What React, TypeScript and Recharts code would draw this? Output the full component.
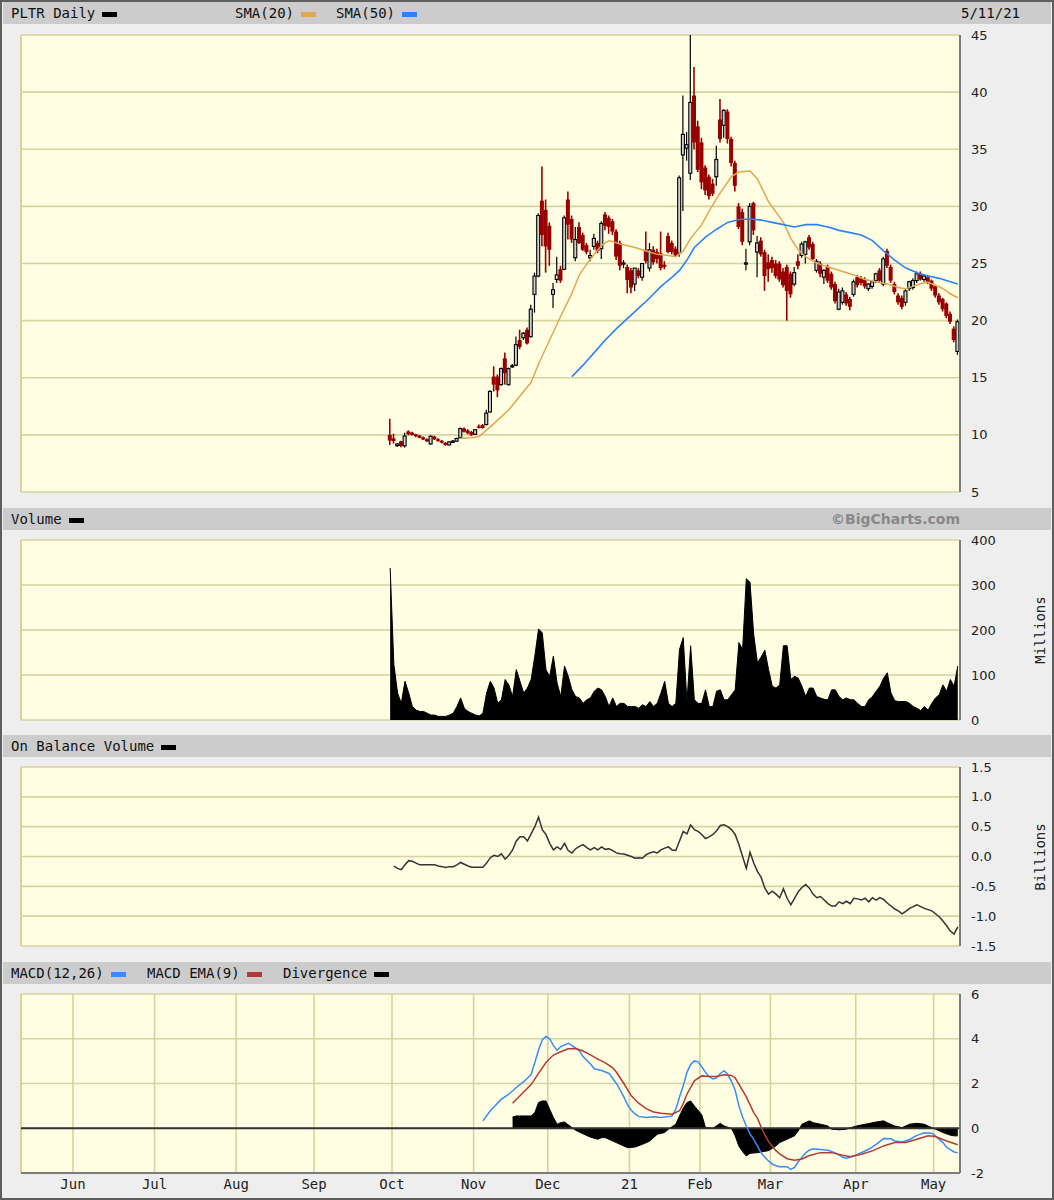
import {
  Area,
  Bar,
  CartesianGrid,
  ComposedChart,
  Line,
  ReferenceLine,
  XAxis,
  YAxis,
} from "recharts";

// Trading-day index: 0 = May 12 2020, 98 = Sep 30 2020 (first PLTR session), 251 = May 11 2021
const FIRST_DAY = 98;
const X_DOMAIN: [number, number] = [-1.5, 251.6];

const monthStarts = [13, 35, 57, 78, 99, 121, 141, 163, 182, 201, 224, 245];
const monthLabels = ["Jun", "Jul", "Aug", "Sep", "Oct", "Nov", "Dec", "21", "Feb", "Mar", "Apr", "May"];

const priceTicks = [5, 10, 15, 20, 25, 30, 35, 40, 45];
const volumeTicks = [0, 100, 200, 300, 400];
const obvTicks = [-1.5, -1, -0.5, 0, 0.5, 1, 1.5];
const macdTicks = [-2, 0, 2, 4, 6];

// daily [open, high, low, close], one row per session starting at FIRST_DAY
const ohlc: number[][] = [
  [10.0, 11.41, 9.11, 9.5], [9.69, 10.1, 9.23, 9.46], [9.06, 9.28, 8.94, 9.2], [9.43, 9.49, 8.92, 9.03], [9.04, 10.18, 8.9, 9.9],
  [10.3, 10.4, 9.95, 10.05], [10.2, 10.28, 9.95, 10.0], [10.05, 10.1, 9.8, 9.88], [9.95, 10.0, 9.7, 9.75], [9.78, 9.85, 9.55, 9.6],
  [9.62, 9.7, 9.38, 9.45], [9.2, 9.95, 9.15, 9.88], [9.85, 9.92, 9.55, 9.62], [9.62, 9.7, 9.4, 9.48], [9.48, 9.55, 9.25, 9.32],
  [9.3, 9.38, 9.05, 9.12], [9.12, 9.45, 9.08, 9.38], [9.4, 9.55, 9.3, 9.45], [9.45, 9.75, 9.4, 9.68], [9.75, 10.65, 9.7, 10.55],
  [10.55, 10.65, 10.2, 10.28], [10.38, 10.5, 10.05, 10.15], [10.25, 10.35, 9.9, 10.0], [10.05, 10.5, 10.0, 10.45], [10.75, 10.9, 10.55, 10.62],
  [10.85, 10.95, 10.55, 10.6], [10.9, 12.2, 10.85, 11.9], [12.0, 13.9, 11.95, 13.8], [15.1, 16.0, 13.8, 14.4], [15.1, 15.3, 13.3, 13.9],
  [14.4, 15.9, 14.3, 15.8], [16.7, 17.2, 14.4, 15.4], [14.4, 15.9, 14.3, 15.8], [15.95, 16.2, 15.85, 16.05], [16.1, 18.6, 16.0, 17.9],
  [18.3, 19.2, 17.5, 17.7], [18.5, 19.0, 18.3, 18.9], [19.2, 19.4, 17.9, 18.0], [18.6, 21.4, 18.5, 21.0], [22.3, 24.2, 20.7, 23.9],
  [23.9, 29.4, 23.8, 29.2], [30.5, 33.5, 26.5, 27.5], [29.7, 30.6, 24.2, 26.5], [28.3, 28.6, 24.8, 26.2], [22.3, 23.3, 21.1, 22.7],
  [23.6, 25.6, 23.3, 24.0], [24.5, 24.8, 23.3, 23.5], [24.5, 29.2, 24.4, 29.0], [30.6, 31.3, 27.1, 28.4], [28.9, 29.2, 26.8, 27.1],
  [25.5, 28.2, 25.2, 27.1], [28.2, 28.6, 26.7, 26.8], [27.5, 27.7, 26.1, 26.2], [26.6, 26.8, 25.8, 26.0], [25.5, 26.2, 25.2, 25.7],
  [26.5, 27.6, 26.2, 27.2], [26.8, 27.0, 25.9, 26.1], [26.3, 28.7, 25.4, 28.5], [29.3, 29.5, 27.9, 28.3], [29.0, 29.2, 27.6, 28.2],
  [28.7, 28.9, 27.5, 27.8], [27.8, 28.0, 25.3, 25.6], [26.8, 27.0, 24.4, 24.8], [25.0, 25.3, 24.6, 25.05], [24.7, 24.9, 22.4, 23.55],
  [24.4, 24.6, 22.4, 22.9], [23.2, 24.6, 22.6, 24.6], [24.4, 24.6, 23.7, 23.9], [23.8, 25.0, 23.5, 25.0], [26.2, 27.8, 25.0, 25.2],
  [24.6, 26.8, 24.3, 26.2], [26.2, 26.5, 24.9, 25.1], [26.0, 26.3, 25.0, 25.4], [25.9, 27.8, 24.4, 24.6], [24.9, 25.2, 24.5, 24.7],
  [27.4, 27.7, 25.9, 26.0], [26.8, 27.0, 25.8, 26.0], [26.3, 26.5, 25.6, 25.7], [25.9, 32.7, 25.6, 32.5], [34.5, 39.7, 29.6, 36.3],
  [35.1, 36.5, 34.0, 35.4], [32.9, 45.0, 32.3, 39.1], [39.7, 42.2, 35.0, 35.6], [37.0, 37.5, 33.0, 33.2], [35.6, 36.0, 31.5, 32.1],
  [33.4, 33.6, 31.0, 31.4], [32.6, 32.8, 30.6, 30.9], [32.0, 32.4, 30.9, 31.1], [32.6, 35.3, 31.8, 34.1], [37.6, 39.4, 35.6, 35.9],
  [37.1, 38.5, 36.0, 38.4], [38.3, 38.5, 35.5, 35.9], [35.9, 36.1, 33.5, 33.8], [33.8, 34.0, 31.3, 31.8], [30.0, 30.3, 28.0, 28.2],
  [29.5, 29.8, 26.6, 26.9], [25.0, 26.3, 24.4, 25.05], [26.9, 30.3, 26.6, 30.0], [30.3, 30.4, 27.5, 27.9], [26.0, 27.4, 23.8, 26.8],
  [27.0, 27.3, 25.6, 25.8], [26.0, 26.2, 22.6, 23.9], [25.1, 25.8, 23.4, 24.5], [25.3, 25.6, 24.2, 24.6], [25.0, 25.3, 23.7, 23.9],
  [25.0, 25.2, 23.4, 23.6], [24.3, 24.6, 22.9, 23.1], [24.7, 24.9, 20.0, 22.6], [24.1, 24.3, 22.0, 22.3], [23.2, 24.7, 23.0, 24.2],
  [25.2, 25.8, 24.5, 24.8], [25.7, 26.9, 25.5, 26.7], [25.8, 27.0, 25.0, 26.9], [27.3, 27.5, 26.2, 26.4], [26.7, 26.9, 25.3, 25.4],
  [24.4, 25.4, 24.2, 25.2], [25.0, 25.2, 23.8, 24.1], [23.8, 24.5, 23.2, 24.4], [24.7, 24.9, 23.3, 23.5], [24.1, 24.3, 22.7, 22.9],
  [23.2, 23.4, 21.5, 21.7], [21.0, 22.8, 20.9, 22.5], [21.6, 22.9, 21.4, 22.6], [22.3, 22.5, 21.3, 21.5], [21.9, 22.1, 20.9, 21.2],
  [22.3, 23.6, 22.1, 23.4], [23.8, 24.0, 22.9, 23.1], [23.7, 23.9, 23.1, 23.3], [23.6, 23.8, 22.8, 23.0], [22.8, 23.3, 22.6, 23.2],
  [23.0, 23.5, 22.8, 23.4], [23.5, 24.2, 23.3, 24.1], [24.4, 24.6, 23.3, 23.5], [23.2, 25.6, 23.0, 25.4], [26.1, 26.3, 24.6, 24.8],
  [24.7, 24.9, 23.3, 23.5], [23.2, 23.4, 22.3, 22.5], [22.2, 22.4, 21.4, 21.6], [22.0, 22.2, 21.0, 21.2], [21.6, 22.8, 21.3, 22.6],
  [22.8, 23.5, 22.6, 23.4], [22.9, 23.7, 22.7, 23.5], [23.5, 24.3, 23.3, 24.1], [24.1, 24.3, 23.5, 23.6], [23.6, 24.0, 23.4, 23.9],
  [23.8, 24.0, 23.2, 23.4], [23.5, 23.6, 22.6, 22.8], [23.0, 23.1, 22.0, 22.2], [22.2, 22.4, 21.4, 21.6], [21.9, 22.0, 20.8, 21.0],
  [21.5, 21.6, 20.2, 20.4], [20.6, 20.8, 19.7, 19.9], [19.3, 19.5, 18.1, 18.3], [17.3, 20.1, 17.0, 19.9],
];

// shares traded, millions, from FIRST_DAY
const volume = [
  338, 124, 60, 37, 86, 60, 30, 22, 19, 19,
  15, 11, 11, 8, 8, 8, 11, 15, 30, 49,
  26, 19, 15, 11, 9, 15, 60, 86, 71, 37,
  45, 90, 78, 52, 112, 86, 60, 71, 90, 142,
  202, 194, 112, 97, 142, 82, 52, 120, 97, 67,
  52, 49, 37, 45, 49, 64, 71, 67, 52, 30,
  49, 30, 37, 37, 30, 30, 30, 26, 34, 30,
  41, 30, 37, 60, 86, 37, 30, 37, 157, 183,
  40, 165, 45, 37, 37, 67, 30, 30, 64, 67,
  45, 45, 56, 67, 172, 157, 314, 306, 190, 127,
  140, 155, 112, 75, 71, 78, 165, 165, 90, 97,
  93, 75, 52, 71, 71, 52, 49, 46, 45, 67,
  67, 52, 45, 49, 45, 45, 37, 30, 30, 45,
  52, 64, 75, 93, 105, 60, 43, 41, 41, 41,
  37, 30, 26, 21, 30, 22, 37, 49, 56, 78,
  64, 90, 75, 120,
];

// on balance volume, billions, from FIRST_DAY + 1
const obv = [
  -0.16, -0.2, -0.22, -0.14, -0.07, -0.08, -0.11, -0.14, -0.14,
  -0.14, -0.14, -0.14, -0.16, -0.17, -0.185, -0.17, -0.17, -0.14, -0.1,
  -0.13, -0.16, -0.18, -0.18, -0.18, -0.18, -0.11, -0.02, 0.02, 0.0,
  0.045, -0.045, 0.02, 0.11, 0.26, 0.33, 0.33, 0.26, 0.38, 0.5,
  0.66, 0.45, 0.37, 0.22, 0.11, 0.16, 0.12, 0.22, 0.1, 0.06,
  0.13, 0.17, 0.2, 0.15, 0.11, 0.15, 0.11, 0.16, 0.12, 0.13,
  0.1, 0.06, 0.045, 0.04, 0.02, 0.0, -0.03, -0.02, -0.03, 0.03,
  0.06, 0.08, 0.06, 0.11, 0.14, 0.16, 0.11, 0.1, 0.26, 0.42,
  0.38, 0.53, 0.45, 0.42, 0.37, 0.3, 0.33, 0.37, 0.43, 0.52,
  0.53, 0.5, 0.45, 0.37, 0.2, 0.0, -0.2, 0.07, -0.11, -0.25,
  -0.35, -0.53, -0.63, -0.58, -0.63, -0.69, -0.54, -0.7, -0.81, -0.7,
  -0.59, -0.52, -0.47, -0.53, -0.63, -0.69, -0.67, -0.73, -0.79, -0.83,
  -0.83, -0.76, -0.79, -0.75, -0.79, -0.7, -0.71, -0.73, -0.7, -0.76,
  -0.69, -0.73, -0.69, -0.72, -0.78, -0.83, -0.88, -0.91, -0.96, -0.92,
  -0.87, -0.84, -0.81, -0.84, -0.87, -0.89, -0.91, -0.96, -1.01, -1.08,
  -1.16, -1.25, -1.3, -1.18,
];

// [day, value] pairs
const sma20 = [
  [117, 9.7], [120, 9.75], [122, 9.85], [125, 10.7], [128, 11.6], [130, 12.2], [133, 13.4], [136, 14.6],
  [138, 16.2], [139, 16.9], [141, 18.3], [144, 20.4], [147, 22.4], [149, 24.0], [152, 25.4], [155, 26.6],
  [157, 27.0], [160, 26.7], [164, 26.4], [167, 26.1], [170, 25.8], [173, 25.7], [175, 25.6], [177, 26.1],
  [179, 27.2], [182, 28.4], [184, 29.6], [187, 31.2], [190, 32.6], [192, 33.0], [195, 33.1], [197, 32.4],
  [200, 30.4], [202, 29.5], [204, 28.6], [206, 27.2], [208, 26.2], [210, 25.6], [212, 25.2], [214, 24.9],
  [217, 24.6], [220, 24.3], [223, 24.0], [226, 23.6], [229, 23.4], [232, 23.2], [235, 22.9], [237, 22.8],
  [239, 23.0], [241, 23.25], [243, 23.35], [245, 23.1], [247, 22.8], [249, 22.35], [251, 22.0],
];

const sma50 = [
  [147, 15.1], [150, 16.1], [153, 17.2], [156, 18.3], [159, 19.3], [162, 20.2], [165, 21.1], [168, 22.0],
  [171, 23.0], [174, 23.8], [176, 24.4], [178, 25.3], [180, 26.4], [183, 27.3], [186, 28.0], [189, 28.6],
  [192, 28.85], [195, 28.9], [198, 28.8], [201, 28.6], [204, 28.4], [207, 28.2], [210, 28.4], [213, 28.4],
  [216, 28.2], [219, 27.9], [222, 27.7], [225, 27.5], [228, 27.0], [231, 26.1], [234, 25.3], [237, 24.6],
  [240, 24.2], [243, 23.9], [246, 23.7], [249, 23.4], [251, 23.2],
];

const macdLine = [
  [123, 0.33], [125, 0.78], [128, 1.3], [130, 1.52], [132, 1.82], [134, 2.08], [136, 2.4], [137, 2.94],
  [138, 3.5], [139, 3.95], [140, 4.1], [141, 4.0], [142, 3.7], [143, 3.48], [144, 3.65], [146, 3.8],
  [147, 3.7], [149, 3.46], [150, 3.2], [152, 2.87], [153, 2.66], [155, 2.58], [157, 2.45], [159, 2.0],
  [160, 1.7], [161, 1.4], [162, 1.05], [163, 0.8], [164, 0.64], [165, 0.53], [167, 0.48], [169, 0.51],
  [171, 0.48], [173, 0.52], [174, 0.55], [175, 0.85], [176, 1.4], [177, 1.9], [178, 2.5], [179, 2.85],
  [180, 3.01], [181, 2.97], [182, 2.75], [183, 2.5], [184, 2.3], [185, 2.2], [186, 2.25], [187, 2.45],
  [188, 2.57], [189, 2.4], [190, 2.1], [191, 1.7], [192, 1.0], [193, 0.5], [194, 0.1], [195, -0.25],
  [196, -0.5], [197, -0.8], [198, -1.1], [199, -1.3], [200, -1.46], [201, -1.6], [202, -1.68], [203, -1.72],
  [205, -1.72], [206, -1.84], [207, -1.75], [208, -1.5], [209, -1.3], [210, -1.1], [211, -0.98], [212, -0.92],
  [214, -0.95], [216, -0.98], [218, -1.1], [220, -1.3], [221, -1.34], [223, -1.24], [225, -1.09], [227, -0.94],
  [229, -0.72], [231, -0.46], [233, -0.47], [234, -0.57], [236, -0.61], [238, -0.5], [240, -0.32], [242, -0.2],
  [244, -0.22], [245, -0.35], [247, -0.64], [248, -0.85], [250, -1.06], [251, -1.1],
];

const macdSignal = [
  [131, 1.12], [133, 1.45], [136, 1.95], [138, 2.45], [140, 2.94], [142, 3.27], [144, 3.42], [146, 3.55],
  [148, 3.56], [150, 3.45], [152, 3.28], [154, 3.09], [156, 2.92], [158, 2.7], [159, 2.5], [161, 2.0],
  [163, 1.45], [165, 1.12], [167, 0.88], [169, 0.73], [171, 0.67], [174, 0.63], [176, 0.78], [177, 1.1],
  [178, 1.52], [180, 2.12], [182, 2.34], [184, 2.31], [186, 2.31], [188, 2.39], [190, 2.36], [191, 2.25],
  [192, 1.97], [194, 1.4], [196, 0.7], [197, 0.45], [198, 0.05], [199, -0.3], [200, -0.6], [201, -0.8],
  [202, -1.0], [203, -1.15], [205, -1.36], [207, -1.43], [209, -1.37], [211, -1.22], [214, -1.09], [217, -1.09],
  [220, -1.21], [222, -1.27], [225, -1.16], [228, -1.01], [231, -0.79], [234, -0.64], [237, -0.64], [240, -0.49],
  [243, -0.34], [245, -0.37], [248, -0.57], [251, -0.74],
];

const divergence = [
  [131, 0.5], [132, 0.55], [136, 0.55], [137, 0.7], [138, 1.15], [139, 1.22], [140, 1.22], [141, 0.85],
  [142, 0.48], [143, 0.18], [144, 0.25], [145, 0.28], [147, 0.03], [148, -0.09], [150, -0.25], [152, -0.4],
  [154, -0.49], [155, -0.42], [156, -0.42], [158, -0.57], [160, -0.72], [162, -0.87], [164, -0.84], [166, -0.72],
  [168, -0.57], [170, -0.27], [172, -0.19], [173, -0.04], [175, 0.18], [176, 0.55], [177, 0.9], [178, 1.15],
  [179, 1.22], [180, 1.0], [182, 0.6], [183, 0.03], [185, 0.0], [187, 0.22], [188, 0.1], [190, -0.01],
  [191, -0.34], [192, -0.8], [193, -1.05], [194, -1.24], [195, -1.12], [197, -1.09], [200, -1.0], [202, -0.79],
  [203, -0.64], [205, -0.49], [207, -0.34], [208, -0.12], [209, 0.18], [211, 0.33], [212, 0.25], [214, 0.18],
  [216, 0.1], [217, -0.04], [219, -0.07], [221, -0.04], [223, 0.07], [225, 0.15], [227, 0.21], [229, 0.28],
  [231, 0.33], [232, 0.25], [234, 0.1], [236, 0.03], [238, 0.18], [240, 0.22], [242, 0.18], [243, 0.1],
  [245, -0.04], [247, -0.19], [249, -0.31], [250, -0.34], [251, -0.34],
];

const PANEL_BG = "#eeeeee";
const BAR_BG = "#cccccc";
const PLOT_BG = "#fffee2";
const GRID = "#d6d39e";
const FRAME = "#7c7c7c";
const DOWN = "#990000";
const SMA20_COLOR = "#e3a650";
const SMA50_COLOR = "#2b84f5";
const MACD_COLOR = "#3a8cf8";
const SIGNAL_COLOR = "#b03c36";
const MONO = "'DejaVu Sans Mono', monospace";
const SANS = "'DejaVu Sans', Verdana, sans-serif";

const monthLines = monthStarts.map((d) => d - 0.5);
const days = ohlc.map((_, k) => FIRST_DAY + k);
const lookup = (pairs: number[][]) => new Map(pairs.map(([d, v]) => [d, v]));

const sma20ByDay = lookup(sma20);
const sma50ByDay = lookup(sma50);
const macdByDay = lookup(macdLine);
const signalByDay = lookup(macdSignal);
const divByDay = lookup(divergence);

const priceRows = days.map((i, k) => {
  const [o, h, l, c] = ohlc[k];
  return { i, o, h, l, c, hl: [l, h], sma20: sma20ByDay.get(i) ?? null, sma50: sma50ByDay.get(i) ?? null };
});
const volumeRows = days.map((i, k) => ({ i, vol: volume[k] }));
const obvRows = days.slice(1).map((i, k) => ({ i, obv: obv[k] }));
const macdRows = days.map((i) => ({
  i,
  macd: macdByDay.get(i) ?? null,
  signal: signalByDay.get(i) ?? null,
  div: divByDay.get(i) ?? null,
}));

// high-low wick plus open-close body; hollow grey when the session closed up
function Candle(props: any) {
  const { x, y, width, height, payload } = props;
  if (!payload || x == null || y == null) return null;
  const { o, h, l, c } = payload;
  const top = Math.min(y, y + height);
  const span = Math.abs(height);
  const k = h === l ? 0 : span / (h - l);
  const yOpen = top + (h - o) * k;
  const yClose = top + (h - c) * k;
  const up = c >= o;
  const cx = x + width / 2;
  const bodyTop = Math.min(yOpen, yClose);
  const bodyH = Math.max(Math.abs(yClose - yOpen), 1.2);
  return (
    <g>
      <line
        x1={cx}
        x2={cx}
        y1={top}
        y2={top + span}
        stroke={up ? "#000" : DOWN}
        strokeWidth={up ? 1.2 : 1.6}
      />
      {up ? (
        <rect x={x} y={bodyTop} width={width} height={bodyH} fill="#d0d0d0" stroke="#000" strokeWidth={1.1} />
      ) : (
        <rect x={x - 0.5} y={bodyTop} width={width + 1} height={bodyH} fill={DOWN} />
      )}
    </g>
  );
}

type PanelProps = {
  top: number;
  plotHeight: number;
  data: any[];
  yDomain: [number, number];
  yTicks: number[];
  yFormat?: (v: number) => string;
  months?: boolean;
  children: any;
};

function Panel({ top, plotHeight, data, yDomain, yTicks, yFormat, months, children }: PanelProps) {
  const padTop = 10;
  const axisH = months ? 26 : 0;
  const padBottom = months ? 0 : 10;
  return (
    <div style={{ position: "absolute", left: 0, top: top - padTop }}>
      <ComposedChart
        width={1054}
        height={padTop + plotHeight + padBottom + axisH}
        data={data}
        margin={{ top: padTop, right: 0, bottom: padBottom, left: 21 }}
      >
        <CartesianGrid stroke={GRID} strokeWidth={1.6} fill={PLOT_BG} fillOpacity={1} />
        <XAxis
          dataKey="i"
          type="number"
          domain={X_DOMAIN}
          allowDataOverflow
          ticks={monthLines}
          interval={0}
          height={axisH}
          tick={months ? { fontFamily: MONO, fontSize: 14, fill: "#222" } : false}
          tickFormatter={(v: number) => monthLabels[monthLines.indexOf(v)] ?? ""}
          tickLine={false}
          tickSize={0}
          tickMargin={6}
          axisLine={{ stroke: FRAME, strokeWidth: 2 }}
        />
        <YAxis
          orientation="right"
          width={94}
          type="number"
          domain={yDomain}
          allowDataOverflow
          ticks={yTicks}
          interval={0}
          tick={{ fontFamily: SANS, fontSize: 13, fill: "#222" }}
          tickFormatter={yFormat}
          tickLine={false}
          tickSize={0}
          tickMargin={11}
          axisLine={{ stroke: FRAME, strokeWidth: 2 }}
        />
        <ReferenceLine x={X_DOMAIN[0]} stroke={GRID} strokeWidth={2} />
        {children}
      </ComposedChart>
    </div>
  );
}

function HeaderBar({ top, children }: { top: number; children: any }) {
  return (
    <div
      style={{
        position: "absolute",
        left: 3,
        top,
        width: 1048,
        height: 22,
        background: BAR_BG,
        fontFamily: MONO,
        fontSize: 14,
        color: "#111",
      }}
    >
      {children}
    </div>
  );
}

function Key({ x, label, color }: { x: number; label: string; color: string }) {
  return (
    <div style={{ position: "absolute", left: x, top: 0, height: 22, lineHeight: "22px", whiteSpace: "nowrap" }}>
      {label}
      <span
        style={{
          display: "inline-block",
          width: 15,
          height: 5,
          background: color,
          marginLeft: 7,
          verticalAlign: "middle",
        }}
      />
    </div>
  );
}

function SideLabel({ top, text }: { top: number; text: string }) {
  return (
    <div
      style={{
        position: "absolute",
        left: 1040,
        top,
        fontFamily: MONO,
        fontSize: 14,
        color: "#222",
        transform: "translate(-50%, -50%) rotate(-90deg)",
        whiteSpace: "nowrap",
      }}
    >
      {text}
    </div>
  );
}

export default function App() {
  return (
    <div
      style={{
        position: "absolute",
        left: 0,
        top: 0,
        width: 1054,
        height: 1200,
        background: PANEL_BG,
        overflow: "hidden",
      }}
    >
      <HeaderBar top={2}>
        <Key x={8} label="PLTR Daily" color="#000" />
        <Key x={232} label="SMA(20)" color={SMA20_COLOR} />
        <Key x={333} label="SMA(50)" color={SMA50_COLOR} />
        <div style={{ position: "absolute", left: 958, top: 0, lineHeight: "22px" }}>5/11/21</div>
      </HeaderBar>

      <HeaderBar top={508}>
        <Key x={8} label="Volume" color="#000" />
        <div
          style={{
            position: "absolute",
            right: 1048 - 957,
            top: 0,
            lineHeight: "22px",
            fontFamily: SANS,
            fontWeight: "bold",
            fontSize: 14,
            color: "#888",
          }}
        >
          ©BigCharts.com
        </div>
      </HeaderBar>

      <HeaderBar top={735}>
        <Key x={8} label="On Balance Volume" color="#000" />
      </HeaderBar>

      <HeaderBar top={962}>
        <Key x={8} label="MACD(12,26)" color={MACD_COLOR} />
        <Key x={144} label="MACD EMA(9)" color={SIGNAL_COLOR} />
        <Key x={280} label="Divergence" color="#000" />
      </HeaderBar>

      <Panel top={35} plotHeight={457} data={priceRows} yDomain={[5, 45]} yTicks={priceTicks}>
        <Line
          dataKey="sma20"
          stroke={SMA20_COLOR}
          strokeWidth={1.5}
          dot={false}
          connectNulls
          isAnimationActive={false}
        />
        <Line
          dataKey="sma50"
          stroke={SMA50_COLOR}
          strokeWidth={1.6}
          dot={false}
          connectNulls
          isAnimationActive={false}
        />
        <Bar dataKey="hl" barSize={3} shape={<Candle />} isAnimationActive={false} />
      </Panel>

      <Panel top={540} plotHeight={180} data={volumeRows} yDomain={[0, 400]} yTicks={volumeTicks}>
        <Area
          dataKey="vol"
          type="linear"
          stroke="#000"
          strokeWidth={1}
          fill="#000"
          fillOpacity={1}
          isAnimationActive={false}
        />
      </Panel>

      <Panel
        top={767}
        plotHeight={179}
        data={obvRows}
        yDomain={[-1.5, 1.5]}
        yTicks={obvTicks}
        yFormat={(v: number) => v.toFixed(1)}
      >
        <Line dataKey="obv" stroke="#333" strokeWidth={1.5} dot={false} isAnimationActive={false} />
      </Panel>

      <Panel top={994} plotHeight={179} data={macdRows} yDomain={[-2, 6]} yTicks={macdTicks} months>
        <Area
          dataKey="div"
          type="linear"
          baseValue={0}
          stroke="#000"
          strokeWidth={1}
          fill="#000"
          fillOpacity={1}
          connectNulls
          isAnimationActive={false}
        />
        <ReferenceLine y={0} stroke="#333" strokeWidth={2} />
        <Line
          dataKey="macd"
          stroke={MACD_COLOR}
          strokeWidth={1.5}
          dot={false}
          connectNulls
          isAnimationActive={false}
        />
        <Line
          dataKey="signal"
          stroke={SIGNAL_COLOR}
          strokeWidth={1.5}
          dot={false}
          connectNulls
          isAnimationActive={false}
        />
      </Panel>

      <SideLabel top={630} text="Millions" />
      <SideLabel top={857} text="Billions" />

      <div
        style={{
          position: "absolute",
          inset: 0,
          border: "2px solid #5e5e5e",
          boxSizing: "border-box",
          pointerEvents: "none",
        }}
      />
    </div>
  );
}
